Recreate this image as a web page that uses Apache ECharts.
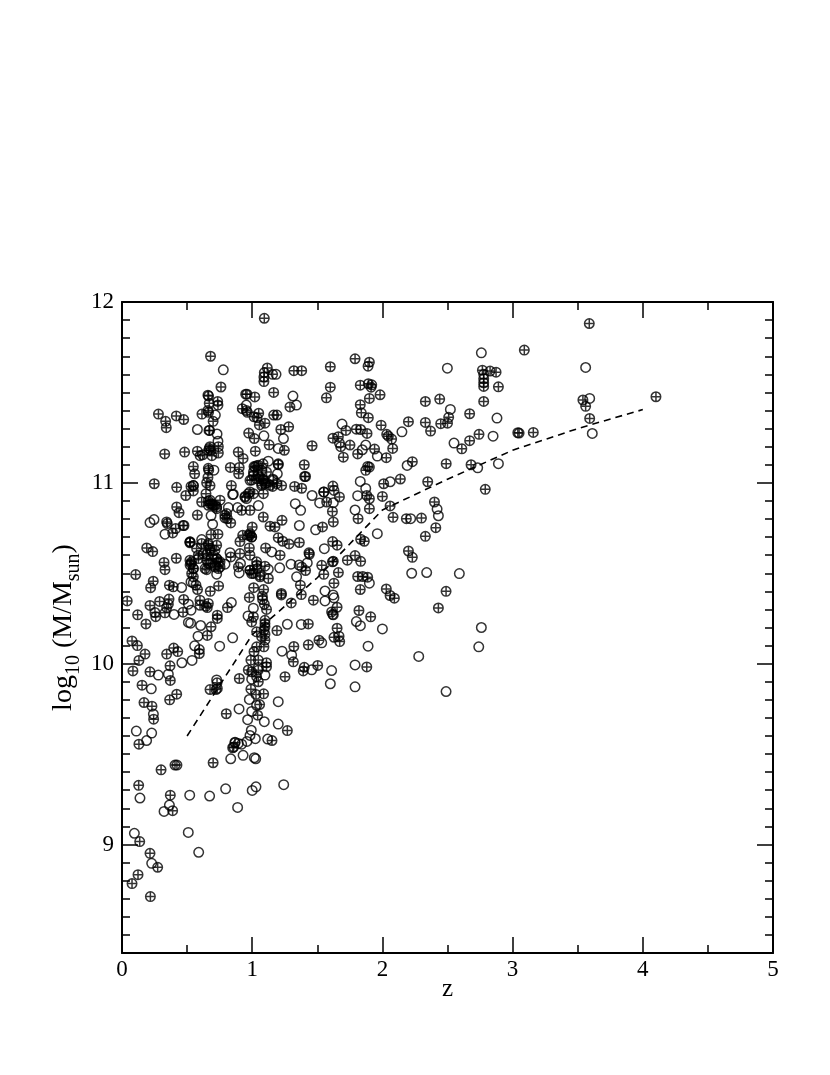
<!DOCTYPE html>
<html>
<head>
<meta charset="utf-8">
<title>log M vs z</title>
<script src="https://cdn.jsdelivr.net/npm/echarts@6/dist/echarts.min.js"></script>
<style>
  html, body { margin: 0; padding: 0; background: #fff; }
</style>
</head>
<body>
<div id="chart" style="width: 830px;height:1075px"></div>
<script>
// [z, log10 M]
const crossedPoints = [
  [1.093,11.91],[0.68,11.70],[1.116,11.635],[1.093,11.61],[1.157,11.60],[1.09,11.585],[1.09,11.56],[1.32,11.62],[1.38,11.62],
  [0.76,11.53],[1.165,11.50],[0.66,11.485],[0.665,11.48],[0.95,11.49],[0.96,11.49],[1.02,11.475],[0.67,11.44],
  [0.735,11.45],[0.737,11.43],[1.29,11.42],[0.924,11.41],[0.66,11.40],[0.665,11.39],[0.28,11.38],[0.417,11.37],[0.474,11.35],[0.614,11.38],
  [0.335,11.34],[0.34,11.305],[0.70,11.34],[0.963,11.39],[0.955,11.40],[1.05,11.385],[1.014,11.365],[1.037,11.36],[1.055,11.32],[1.098,11.33],
  [1.165,11.375],[1.19,11.375],[0.673,11.29],[0.668,11.29],[0.973,11.275],[1.016,11.245],[1.22,11.295],[1.28,11.31],[1.46,11.205],
  [0.328,11.16],[0.481,11.17],[0.579,11.175],[0.60,11.15],[0.62,11.155],[0.676,11.20],[0.67,11.19],[0.684,11.18],[0.666,11.18],[0.69,11.15],
  [0.74,11.20],[0.74,11.165],[0.893,11.17],[0.93,11.135],[1.024,11.175],[1.13,11.21],[1.247,11.18],[0.548,11.09],[0.558,11.05],[0.663,11.08],
  [0.666,11.07],[0.66,11.03],[0.832,11.085],[0.9,11.085],[0.896,11.05],[1.014,11.09],[1.034,11.095],[1.083,11.105],[1.2,11.105],[1.2,11.10],
  [1.40,11.10],[1.403,11.035],[1.41,11.035],[1.01,11.06],[1.11,11.06],[0.996,11.015],[1.047,11.04],[1.085,11.02],[0.248,10.995],[0.42,10.975],
  [0.53,10.98],[0.548,10.985],[0.65,11.0],[0.676,10.985],[0.84,10.985],[1.157,10.98],[1.226,10.985],[1.326,10.98],[1.38,10.97],[1.55,10.95],
  [1.073,10.985],[1.11,11.0],[0.49,10.93],[0.645,10.94],[0.548,10.955],[0.983,10.95],[1.01,10.94],
  [0.612,10.894],[0.663,10.90],[0.676,10.885],[0.714,10.876],[0.753,10.904],[0.727,10.857],[0.42,10.867],[0.438,10.835],[0.579,10.822],[0.804,10.83],
  [0.791,10.806],[0.835,10.778],[0.919,10.848],[0.983,10.848],[0.945,10.925],[1.085,10.811],[1.137,10.76],[1.175,10.756],[1.229,10.793],[0.343,10.784],
  [0.348,10.775],[0.469,10.764],[0.476,10.764],[0.412,10.747],[0.389,10.723],[1.0,10.756],[0.927,10.71],[0.983,10.71],[0.996,10.70],[0.906,10.675],
  [0.684,10.714],[0.737,10.716],[1.2,10.697],[1.234,10.677],[1.283,10.662],[1.362,10.67],[0.522,10.673],[0.522,10.668],[0.612,10.664],
  [0.663,10.664],[0.573,10.637],[0.676,10.637],[0.727,10.655],[0.714,10.627],[0.586,10.6],[0.65,10.605],[0.978,10.64],[1.103,10.64],[0.19,10.64],
  [0.236,10.62],[0.417,10.583],[0.323,10.56],[0.33,10.52],[0.906,10.609],[0.983,10.6],[0.835,10.59],[1.214,10.6],[1.439,10.605],[1.436,10.613],
  [0.522,10.572],[0.53,10.554],[0.548,10.526],[0.535,10.498],[0.548,10.48],[0.65,10.572],[0.663,10.554],[0.65,10.52],[0.727,10.58],[0.74,10.563],
  [0.714,10.535],[0.753,10.535],[0.894,10.535],[0.983,10.517],[0.996,10.498],[1.034,10.563],[1.04,10.526],[1.098,10.539],[1.06,10.489],[1.124,10.471],
  [1.38,10.535],[1.41,10.515],[0.105,10.493],[0.24,10.456],[0.22,10.42],[0.364,10.434],[0.394,10.425],[0.568,10.434],
  [0.58,10.41],[0.678,10.40],[0.742,10.43],[1.011,10.42],[1.088,10.41],[1.37,10.434],[1.377,10.382],[1.224,10.388],[1.224,10.38],[0.04,10.347],
  [0.978,10.366],[1.078,10.373],[1.08,10.355],[1.093,10.329],[1.11,10.30],[0.215,10.322],[0.289,10.344],[0.361,10.357],[0.356,10.329],[0.343,10.31],
  [0.474,10.355],[0.599,10.351],[0.599,10.323],[0.663,10.333],[0.645,10.318],[0.655,10.31],[0.81,10.31],[0.253,10.283],[0.259,10.26],[0.33,10.281],
  [0.12,10.27],[0.184,10.22],[0.469,10.285],[0.732,10.268],[0.732,10.25],[0.684,10.204],[0.655,10.156],[1.009,10.26],[0.996,10.231],[1.098,10.24],
  [1.098,10.222],[1.098,10.204],[1.09,10.185],[1.098,10.163],[1.073,10.148],[1.098,10.13],[1.09,10.093],[1.034,10.176],[1.19,10.183],[1.431,10.22],
  [1.30,10.336],[1.47,10.351],[0.077,10.126],[0.118,10.10],[0.177,10.053],[0.13,10.018],[0.084,9.96],[0.215,9.955],[0.397,10.086],[0.428,10.067],
  [0.343,10.053],[0.369,9.988],[0.594,10.078],[0.594,10.056],[1.034,10.093],[1.014,10.066],[0.99,10.02],[1.047,10.02],[1.11,10.005],[1.11,9.983],
  [1.32,10.095],[1.431,10.104],[1.316,10.01],[1.513,10.13],[1.503,9.99],[1.40,9.98],[1.392,9.96],[1.252,9.928],[0.901,9.918],[0.97,9.965],
  [0.996,9.955],[1.047,9.964],[1.034,9.928],
  [0.154,9.881],[0.371,9.907],[0.169,9.785],[0.23,9.765],[0.243,9.693],[0.366,9.80],[0.42,9.831],[0.13,9.555],[0.73,9.894],[0.676,9.857],
  [0.722,9.857],[0.732,9.863],[0.99,9.859],[1.029,9.83],[1.088,9.833],[1.057,9.774],[1.042,9.715],[1.047,9.90],[0.801,9.723],[1.27,9.63],
  [1.152,9.575],[0.868,9.562],[0.858,9.539],[0.85,9.535],[0.30,9.413],[0.407,9.439],[0.422,9.439],[0.70,9.452],[0.128,9.327],[0.371,9.273],
  [0.389,9.187],[0.136,9.016],[0.215,8.951],[0.274,8.874],[0.123,8.833],[0.077,8.784],[0.218,8.712],
  [1.60,11.642],[1.79,11.686],[1.90,11.667],[1.89,11.645],[1.60,11.529],[1.57,11.47],[1.83,11.54],[1.892,11.548],[1.918,11.542],[1.913,11.529],
  [1.982,11.487],[1.90,11.467],[1.83,11.432],[1.838,11.387],[1.892,11.36],[1.99,11.319],[2.20,11.338],[2.33,11.45],[2.44,11.463],[2.33,11.334],
  [2.37,11.286],[2.448,11.327],[2.50,11.33],[2.509,11.362],[2.67,11.382],[2.768,11.623],[2.827,11.618],[2.873,11.612],[2.778,11.60],[2.778,11.575],
  [2.778,11.553],[2.778,11.533],[2.891,11.531],[2.778,11.45],[3.04,11.277],[1.72,11.29],[1.80,11.297],[1.833,11.295],[1.882,11.273],[1.62,11.247],
  [1.662,11.255],[1.68,11.20],[1.751,11.209],[1.81,11.16],[1.70,11.142],[2.033,11.268],[2.046,11.258],[2.071,11.242],[2.079,11.19],[1.94,11.187],
  [2.03,11.139],[1.887,11.091],[1.90,11.087],[1.872,11.069],[2.23,11.117],[2.138,11.021],[2.01,10.995],[2.348,11.006],[2.49,11.106],[2.61,11.188],
  [2.67,11.233],[2.742,11.268],[2.681,11.10],[2.79,10.964],[1.62,10.982],[1.628,10.958],[1.55,10.949],[1.67,10.922],[1.572,10.894],[1.90,10.912],
  [1.88,10.93],[2.0,10.925],[2.40,10.894],[2.059,10.872],[1.90,10.857],[1.616,10.842],[2.082,10.809],[2.184,10.802],[2.30,10.805],[1.813,10.802],
  [1.54,10.756],[1.623,10.784],[2.41,10.752],[2.33,10.704],[1.833,10.688],[1.861,10.677],[1.618,10.675],[1.652,10.655],[1.79,10.598],[1.833,10.566],
  [1.731,10.572],[1.623,10.566],[1.616,10.563],[2.20,10.623],[2.23,10.588],[1.534,10.544],[1.55,10.494],[1.662,10.504],[1.628,10.445],[1.81,10.482],
  [1.849,10.482],[1.887,10.478],[1.83,10.41],[2.03,10.413],[2.059,10.377],[2.092,10.362],[2.489,10.40],[2.43,10.308],[1.652,10.312],[1.61,10.286],
  [1.618,10.273],[1.82,10.294],[1.91,10.259],[1.652,10.196],[1.628,10.146],[1.667,10.152],[1.672,10.122],[1.88,9.982],
  [3.589,11.881],[3.09,11.734],[3.54,11.458],[3.561,11.423],[3.592,11.356],[4.101,11.476],[3.05,11.275],[3.159,11.279],
  // denser clumps
  [0.676,10.904],[0.702,10.876],[0.663,10.876],[0.727,10.867],[0.689,10.885],[0.79,10.821],[0.809,10.802],[0.983,10.72],[0.996,10.701],[0.971,10.71],
  [0.523,10.674],[0.535,10.563],[0.523,10.545],[0.548,10.526],[0.625,10.609],[0.663,10.655],[0.676,10.627],[0.702,10.6],[0.727,10.581],[0.753,10.563],
  [0.676,10.554],[0.715,10.545],[0.638,10.526],[0.587,10.581],[0.74,10.526],[0.983,10.517],[1.009,10.499],[1.035,10.545],[1.06,10.48],
  [1.022,11.088],[1.047,11.097],[1.073,11.069],[1.009,11.042],[1.034,11.023],[1.06,11.032],[1.086,11.014],[1.098,10.996],[1.137,10.986],[1.162,11.014],
  [1.188,10.996],[1.073,10.996],[0.983,11.014],[1.086,10.94],[0.97,10.94],[0.945,10.92]
]
const openPoints = [
  [0.778,11.625],[1.183,11.6],[1.313,11.48],[1.34,11.43],[0.955,11.43],[0.717,11.375],[0.579,11.295],[0.73,11.27],[0.737,11.23],[1.09,11.26],
  [1.24,11.245],[1.2,11.19],[1.124,11.12],[1.193,11.05],[0.706,11.07],[1.16,11.02],[0.85,10.935],[1.46,10.93],[0.548,10.985],
  [0.215,10.78],[0.246,10.797],[0.33,10.716],[0.458,10.421],[0.51,10.329],[0.53,10.296],[0.4,10.272],[0.51,10.228],[0.527,10.224],[0.604,10.211],
  [0.584,10.152],[0.75,10.097],[0.85,10.143],[0.558,10.099],[0.46,10.005],[0.538,10.018],[0.279,9.937],[0.356,9.942],[0.727,9.91],[0.855,10.937],
  [0.817,10.863],[0.888,10.863],[1.047,10.874],[0.957,10.913],[0.684,10.819],[0.696,10.771],[1.331,10.885],[1.372,10.848],[1.518,10.889],[1.362,10.764],
  [1.487,10.74],[1.15,10.618],[0.83,10.614],[0.612,10.686],[0.91,10.554],[0.9,10.502],[0.791,10.55],[0.727,10.495],[0.53,10.452],
  [0.548,10.447],[1.124,10.522],[1.211,10.53],[1.298,10.55],[1.36,10.545],[1.423,10.557],[1.341,10.48],[0.84,10.338],
  [1.009,10.307],[0.968,10.264],[1.27,10.218],[1.377,10.217],[1.229,10.069],[1.303,10.047],[1.457,9.966],[1.098,9.937],[1.047,9.979],
  [0.225,9.861],[0.241,9.721],[0.11,9.627],[0.228,9.616],[0.189,9.575],[0.138,9.257],[0.364,9.218],[0.323,9.183],[0.095,9.062],[0.228,8.896],
  [0.52,9.273],[0.673,9.268],[0.796,9.308],[1.0,9.299],[1.029,9.319],[1.242,9.331],[0.888,9.205],[0.509,9.067],[0.589,8.957],[0.835,9.474],
  [0.93,9.493],[1.016,9.48],[1.027,9.474],[1.119,9.583],[1.024,9.585],[0.96,9.57],[0.919,9.555],[0.893,9.559],[0.868,9.566],[0.983,9.603],
  [0.993,9.632],[0.965,9.69],[1.093,9.679],[1.2,9.666],[0.996,9.736],[0.899,9.75],[0.978,9.802],[1.2,9.79],[1.034,9.77],[0.996,9.914],
  [2.76,11.719],[2.499,11.634],[2.522,11.406],[2.88,11.358],[2.85,11.258],[2.891,11.106],[2.732,11.083],[2.55,11.22],[2.15,11.282],[1.69,11.325],
  [1.67,11.22],[1.872,11.209],[1.846,11.183],[1.961,11.148],[2.19,11.096],[1.83,11.008],[1.872,10.969],[2.06,11.006],[1.81,10.929],[1.623,10.89],
  [1.79,10.85],[2.42,10.855],[2.43,10.818],[2.217,10.802],
  [1.961,10.719],[1.554,10.636],[2.225,10.50],[2.34,10.504],[2.591,10.498],[1.90,10.445],[1.559,10.402],[1.621,10.38],[1.628,10.364],[1.559,10.347],
  [1.623,10.27],[1.80,10.233],[1.831,10.21],[2.0,10.192],[2.76,10.20],[2.74,10.093],[2.279,10.04],[1.89,10.097],[1.534,10.115],[1.79,9.993],
  [1.61,9.962],[1.60,9.889],[1.79,9.872],[2.489,9.846],
  [3.561,11.638],[3.592,11.467],[3.612,11.273]
]
const lineZ = [0.5, 1, 1.5, 2, 2.5, 3, 3.5, 4]
const lineMass = [9.6, 10.16, 10.475, 10.85, 11.02, 11.18, 11.3, 11.405]
const majorY = [9, 10, 11, 12]

const crossSymbol = 'path://M0 10A10 10 0 1 1 20 10A10 10 0 1 1 0 10ZM0 10L20 10M10 0L10 20'
const serif = 'Liberation Serif'

function xAxisAt (position, labels) {
  return {
    type: 'value',
    position: position,
    min: 0,
    max: 5,
    interval: 1,
    splitLine: { show: false },
    axisLine: { show: true, lineStyle: { color: '#000', width: 2 } },
    axisTick: { inside: true, length: 16, lineStyle: { color: '#000', width: 1.5 } },
    minorTick: { show: true, splitNumber: 2, length: 8, lineStyle: { color: '#000', width: 1.5 } },
    axisLabel: { show: labels, color: '#000', fontFamily: serif, fontSize: 23, margin: 5 },
    name: labels ? 'z' : '',
    nameLocation: 'middle',
    nameMoveOverlap: false,
    nameGap: 24,
    nameTextStyle: { color: '#000', fontFamily: serif, fontSize: 25 }
  }
}

function yMajorAt (position, labels) {
  return {
    type: 'value',
    position: position,
    min: 8.4,
    max: 12,
    splitLine: { show: false },
    axisLine: { show: true, lineStyle: { color: '#000', width: 2 } },
    axisTick: { inside: true, length: 16, customValues: majorY, lineStyle: { color: '#000', width: 1.5 } },
    axisLabel: { show: labels, customValues: majorY, color: '#000', fontFamily: serif, fontSize: 23, margin: 8 },
    name: labels ? '{a|log}{s|10}{a| (M/M}{s|sun}{a|)}' : '',
    nameLocation: 'middle',
    nameMoveOverlap: false,
    nameGap: 38,
    nameTextStyle: {
      color: '#000',
      fontFamily: serif,
      rich: {
        a: { fontFamily: serif, fontSize: 28, color: '#000', verticalAlign: 'top', lineHeight: 34 },
        s: { fontFamily: serif, fontSize: 20, color: '#000', verticalAlign: 'bottom', lineHeight: 34 }
      }
    }
  }
}

function yMinorAt (position) {
  return {
    type: 'value',
    position: position,
    min: 8.4,
    max: 12,
    interval: 0.1,
    splitLine: { show: false },
    axisLine: { show: false },
    axisTick: { inside: true, length: 8, lineStyle: { color: '#000', width: 1.5 } },
    axisLabel: { show: false }
  }
}

const mychart = echarts.init(document.getElementById('chart'), null, { renderer: 'canvas' })
mychart.setOption({
  animation: false,
  backgroundColor: '#fff',
  grid: { left: 122, top: 302, width: 651, height: 651, containLabel: false },
  xAxis: [xAxisAt('bottom', true), xAxisAt('top', false)],
  yAxis: [yMajorAt('left', true), yMinorAt('left'), yMajorAt('right', false), yMinorAt('right')],
  series: [
    {
      name: 'crossed',
      type: 'scatter',
      silent: true,
      symbol: crossSymbol,
      symbolSize: 9.5,
      itemStyle: { color: 'transparent', borderColor: '#000', borderWidth: 1.5 },
      data: crossedPoints
    },
    {
      name: 'open',
      type: 'scatter',
      silent: true,
      symbol: 'circle',
      symbolSize: 9.5,
      itemStyle: { color: 'transparent', borderColor: '#000', borderWidth: 1.5 },
      data: openPoints
    },
    {
      name: 'mean',
      type: 'line',
      silent: true,
      symbol: 'none',
      lineStyle: { color: '#000', width: 1.6, type: [7, 5] },
      data: lineZ.map(function (z, i) { return [z, lineMass[i]] })
    }
  ]
})
</script>
</body>
</html>
